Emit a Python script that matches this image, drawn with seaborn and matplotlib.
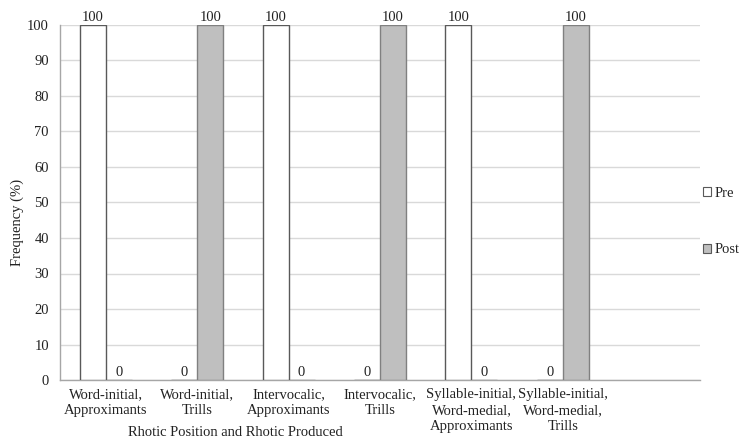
import pandas as pd
import matplotlib
matplotlib.use('Agg')
import matplotlib.pyplot as plt
import seaborn as sns

# chart data
categories = [
    'Word-initial,\nApproximants',
    'Word-initial,\nTrills',
    'Intervocalic,\nApproximants',
    'Intervocalic,\nTrills',
    'Syllable-initial,\nWord-medial,\nApproximants',
    'Syllable-initial,\nWord-medial,\nTrills',
]
pre_values = [100, 0, 100, 0, 100, 0]
post_values = [0, 100, 0, 100, 0, 100]
series = ['Pre', 'Post']
y_ticks = list(range(0, 101, 10))

df = pd.DataFrame({
    'category': categories * 2,
    'series': ['Pre'] * len(categories) + ['Post'] * len(categories),
    'value': pre_values + post_values,
})

sns.set_theme(style='white')
plt.rcParams['font.family'] = ['Liberation Serif', 'DejaVu Serif']
plt.rcParams['font.size'] = 10.5

fig = plt.figure(figsize=(7.42, 4.37), dpi=100)
ax = fig.add_axes([60 / 742, 1 - 380 / 437, 640 / 742, 355 / 437])

sns.barplot(
    data=df, x='category', y='value', hue='series', hue_order=series,
    order=categories, palette={'Pre': '#ffffff', 'Post': '#bfbfbf'},
    width=0.57, gap=0, ax=ax, legend=False, zorder=3,
)
for container, edge in zip(ax.containers, ['#595959', '#808080']):
    for patch in container:
        patch.set_edgecolor(edge)
        patch.set_linewidth(1.0)
    ax.bar_label(container, fmt='%g', padding=1, fontsize=10.5, color='#222222')

ax.set_xlim(-0.5, len(categories) + 0.5)
ax.set_ylim(0, 100)
ax.set_yticks(y_ticks)
ax.yaxis.grid(True, color='#d9d9d9', linewidth=1.0, zorder=0)
ax.set_axisbelow(True)
for side in ['top', 'right']:
    ax.spines[side].set_visible(False)
ax.spines['left'].set_color('#a6a6a6')
ax.spines['bottom'].set_color('#a6a6a6')
ax.spines['left'].set_linewidth(1.0)
ax.spines['bottom'].set_linewidth(1.0)
ax.tick_params(axis='both', length=0, labelsize=10.5, colors='#222222', pad=6)
ax.tick_params(axis='y', pad=8)
for lbl in ax.get_xticklabels():
    lbl.set_linespacing(1.3)
ax.set_xlabel('')
ax.set_ylabel('')

fig.text(17 / 742, 1 - 222 / 437, 'Frequency (%)', rotation=90,
         ha='center', va='center', fontsize=10.5, color='#222222')
fig.text(235 / 742, 1 - 432 / 437, 'Rhotic Position and Rhotic Produced',
         ha='center', va='center', fontsize=10.5, color='#222222')

handles = [
    matplotlib.patches.Patch(facecolor='#ffffff', edgecolor='#595959', linewidth=0.8),
    matplotlib.patches.Patch(facecolor='#bfbfbf', edgecolor='#595959', linewidth=0.8),
]
fig.legend(handles, series, loc='center left', bbox_to_anchor=(0.947, 0.493),
           frameon=False, handlelength=0.55, handleheight=0.55, handletextpad=0.25,
           labelspacing=3.0, fontsize=10.5, borderaxespad=0, borderpad=0)

fig.savefig('out.png', dpi=100)
